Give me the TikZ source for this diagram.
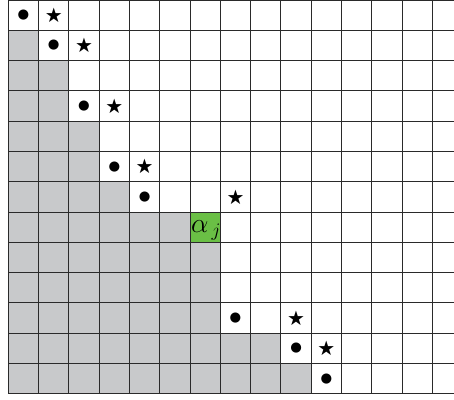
\documentclass[tikz,border=0pt]{standalone}
\usepackage{fontspec}
\setmainfont{DejaVu Sans}
\definecolor{cellgray}{HTML}{C8C9CB}
\definecolor{cellgreen}{HTML}{6ABF45}
\definecolor{gridline}{HTML}{2A2A2A}
\begin{document}
\begin{tikzpicture}[x=0.8cm, y=-0.8cm,
    gridrule/.style={gridline, line width=0.75pt},
    dotmark/.style={inner sep=0pt, font=\fontsize{10}{10}\selectfont},
    starmark/.style={inner sep=0pt, font=\fontsize{15}{15}\selectfont}]
    \useasboundingbox (-0.274,0) rectangle (14.71,13.17);
    % shaded cells, one run per row
    \foreach \r/\n in {1/1,2/2,3/2,4/3,5/3,6/4,7/6,8/7,9/7,10/7,11/9,12/10}
        \fill[cellgray] (0,\r) rectangle (\n,\r+1);
    \fill[cellgreen] (6,7) rectangle (7,8);
    % grid lines
    \foreach \c in {0,...,14}
        \draw[gridrule] (\c,0) -- (\c,13);
    \foreach \r in {0,...,13}
        \draw[gridrule] (0,\r) -- (14.71,\r);
    % marks
    \foreach \c/\r [count=\i] in {0/0,1/1,2/3,3/5,4/6,7/10,9/11,10/12}
        \node[dotmark] (dot\i) at (\c+0.5,\r+0.5) {●};
    \foreach \c/\r [count=\i] in {1/0,2/1,3/3,4/5,7/6,9/10,10/11}
        \node[starmark] (star\i) at (\c+0.5,\r+0.5) {★};
    \node[inner sep=0pt, anchor=base, font=\fontsize{20}{20}\selectfont] (alpha) at (6.53,7.68) {$\alpha_{\,j}$};
\end{tikzpicture}
\end{document}
